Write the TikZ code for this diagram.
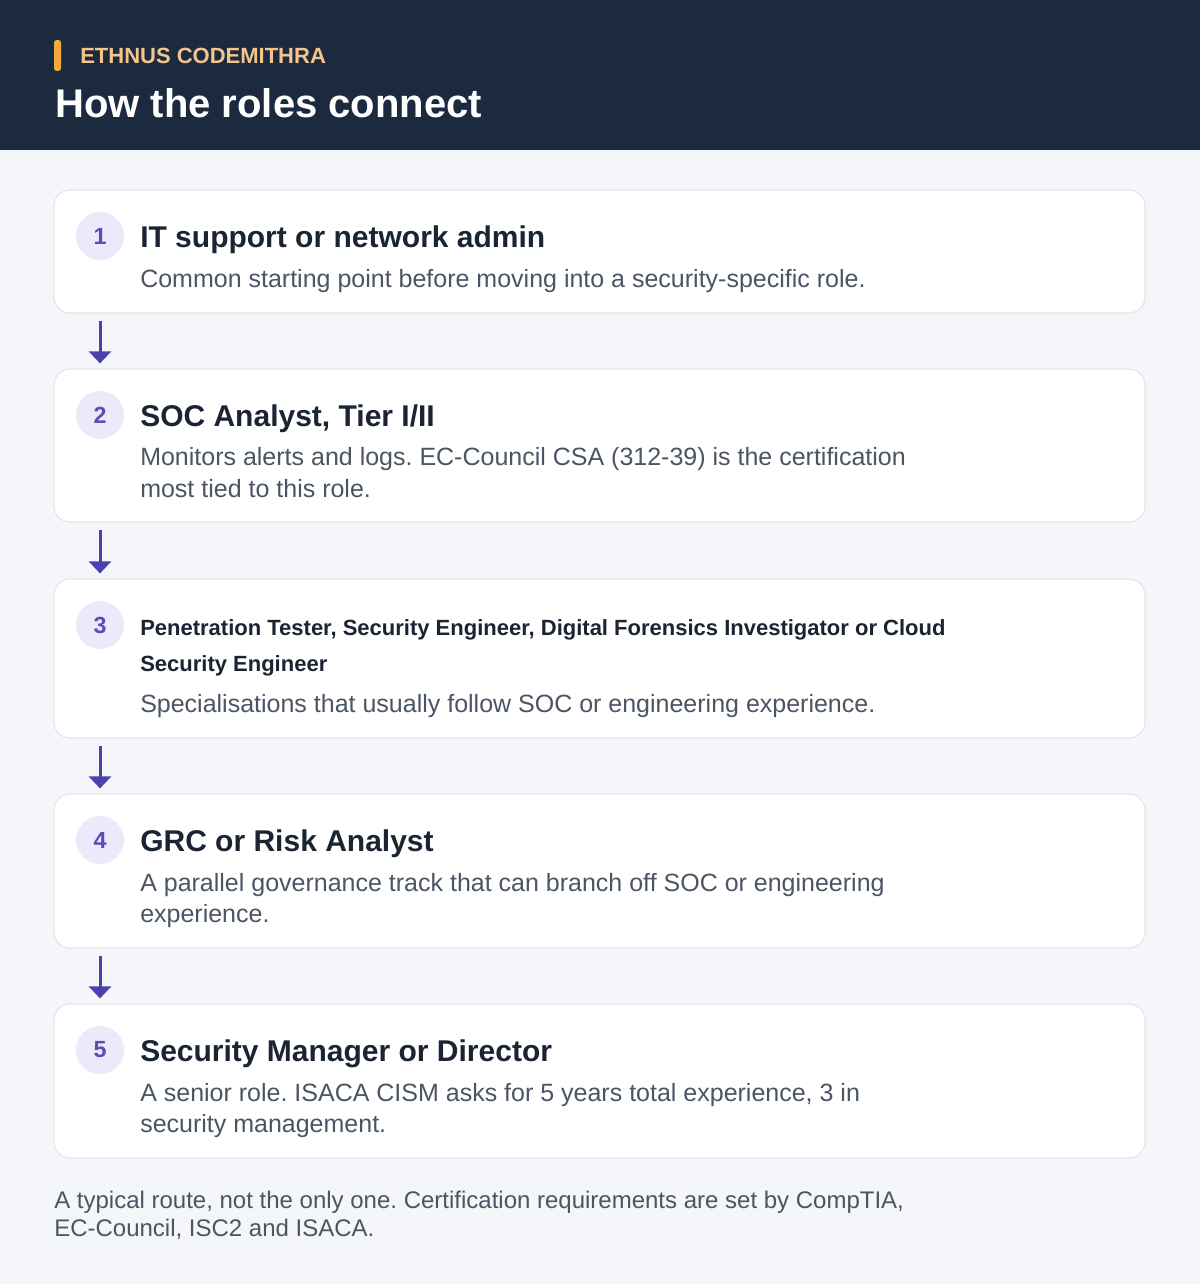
\documentclass[tikz,border=0pt]{standalone}
\usepackage{fontspec}
\setmainfont{Liberation Sans}
\usetikzlibrary{arrows.meta}
\frenchspacing
\definecolor{navy}{HTML}{1B2A3F}
\definecolor{orangebar}{HTML}{F5A93B}
\definecolor{brandtxt}{HTML}{F3C58C}
\definecolor{pagebg}{HTML}{F4F6FA}
\definecolor{cardline}{HTML}{E3E6ED}
\definecolor{badgebg}{HTML}{ECEAFA}
\definecolor{badgetxt}{HTML}{5B4CB8}
\definecolor{titletxt}{HTML}{1B2433}
\definecolor{desctxt}{HTML}{4B5563}
\definecolor{arrowc}{HTML}{4C3FB0}
\tikzset{
  card/.style={draw=cardline, line width=0.9pt, fill=white, rounded corners=12pt,
    minimum width=818.25pt, inner sep=0pt},
  badge/.style={circle, fill=badgebg, minimum size=36pt, inner sep=0pt,
    text=badgetxt, font=\bfseries\fontsize{17.5pt}{20pt}\selectfont},
  ttl/.style={anchor=base west, inner sep=0pt, text=titletxt,
    font=\bfseries\fontsize{22.5pt}{27pt}\selectfont},
  ttlsmall/.style={anchor=base west, inner sep=0pt, text=titletxt,
    font=\bfseries\fontsize{16.5pt}{20pt}\selectfont},
  desc/.style={anchor=base west, inner sep=0pt, text=desctxt,
    font=\frenchspacing\fontsize{18.75pt}{22pt}\selectfont},
  foot/.style={anchor=base west, inner sep=0pt, text=desctxt,
    font=\frenchspacing\fontsize{18pt}{21pt}\selectfont},
  arr/.style={draw=arrowc, line width=2.25pt, -{Triangle[width=16.5pt,length=9pt]}}
}
\begin{document}
\begin{tikzpicture}[x=0.75pt,y=-0.75pt]
\useasboundingbox (0,0) rectangle (1200,1284);
\fill[pagebg] (0,0) rectangle (1200,1284);
\fill[navy] (0,0) rectangle (1200,150);
\fill[orangebar, rounded corners=2pt] (54,40) rectangle (61,71);
\node[anchor=base west, inner sep=0pt, text=brandtxt, font=\bfseries\fontsize{16.5pt}{20pt}\selectfont] (brand) at (80,64) {ETHNUS CODEMITHRA};
\node[anchor=base west, inner sep=0pt, text=white, font=\bfseries\fontsize{30pt}{36pt}\selectfont] (head) at (55,118) {How the roles connect};

% cards
\node[card, minimum height=92.25pt] (c1) at (599.5,251.5) {};
\node[card, minimum height=114.75pt] (c2) at (599.5,445.5) {};
\node[card, minimum height=119.25pt] (c3) at (599.5,658.5) {};
\node[card, minimum height=115.5pt] (c4) at (599.5,871) {};
\node[card, minimum height=115.5pt] (c5) at (599.5,1081) {};

% badges
\node[badge] (b1) at (100,236) {1};
\node[badge] (b2) at (100,415) {2};
\node[badge] (b3) at (100,625) {3};
\node[badge] (b4) at (100,840) {4};
\node[badge] (b5) at (100,1050) {5};

% texts
\node[ttl] (t1) at (140,247) {IT support or network admin};
\node[desc] (d1) at (140,287) {Common starting point before moving into a security-specific role.};

\node[ttl] (t2) at (140,426) {SOC Analyst, Tier I/II};
\node[desc] (d2a) at (140,465) {Monitors alerts and logs. EC-Council CSA (312-39) is the certification};
\node[desc] (d2b) at (140,497) {most tied to this role.};

\node[ttlsmall] (t3a) at (140,635) {Penetration Tester, Security Engineer, Digital Forensics Investigator or Cloud};
\node[ttlsmall] (t3b) at (140,671) {Security Engineer};
\node[desc] (d3) at (140,712) {Specialisations that usually follow SOC or engineering experience.};

\node[ttl] (t4) at (140,851) {GRC or Risk Analyst};
\node[desc] (d4a) at (140,891) {A parallel governance track that can branch off SOC or engineering};
\node[desc] (d4b) at (140,922) {experience.};

\node[ttl] (t5) at (140,1061) {Security Manager or Director};
\node[desc] (d5a) at (140,1101) {A senior role. ISACA CISM asks for 5 years total experience, 3 in};
\node[desc] (d5b) at (140,1132) {security management.};

\node[foot] (f1) at (54,1208) {A typical route, not the only one. Certification requirements are set by CompTIA,};
\node[foot] (f2) at (54,1236) {EC-Council, ISC2 and ISACA.};

% arrows
\draw[arr] ([yshift=-5.25pt]c1.south -| b1.center) -- ([yshift=3.75pt]c2.north -| b2.center);
\draw[arr] ([yshift=-5.25pt]c2.south -| b2.center) -- ([yshift=3.75pt]c3.north -| b3.center);
\draw[arr] ([yshift=-5.25pt]c3.south -| b3.center) -- ([yshift=3.75pt]c4.north -| b4.center);
\draw[arr] ([yshift=-5.25pt]c4.south -| b4.center) -- ([yshift=3.75pt]c5.north -| b5.center);
\end{tikzpicture}
\end{document}
